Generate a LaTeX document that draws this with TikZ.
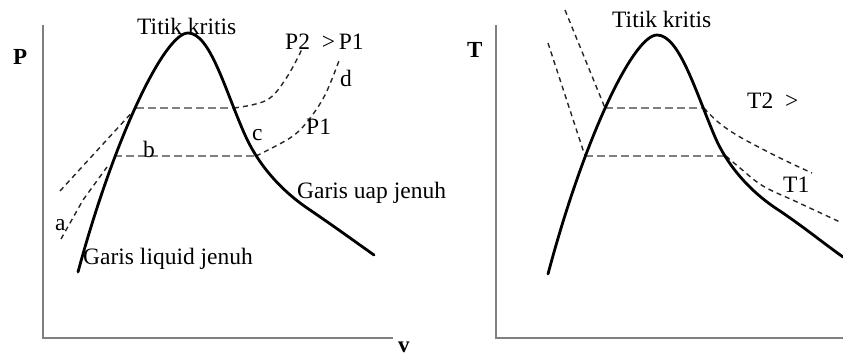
\documentclass[tikz,border=0pt]{standalone}
\usepackage{fontspec}
\setmainfont{Liberation Serif}
\begin{document}
\begin{tikzpicture}[x=1pt,y=-1pt,
  axis/.style={draw=black!50, line width=2pt},
  sat/.style={draw=black, line width=2.8pt, line cap=round, line join=round},
  iso/.style={draw=black!85, line width=1.4pt, dash pattern=on 5pt off 4pt},
  tie/.style={draw=black!50, line width=2pt, dash pattern=on 8pt off 4pt},
  lbl/.style={anchor=base west, inner sep=0pt, font=\fontsize{23.5}{27}\selectfont},
  axl/.style={anchor=base west, inner sep=0pt, font=\fontsize{23}{27}\selectfont\bfseries}]
\useasboundingbox (0,0) rectangle (843,353);
% ---------- left panel (P-v) ----------
\coordinate (LO) at (43,338);
\coordinate (LT) at (43,25);
\coordinate (LR) at (393,338);
\draw[axis] (LT) -- (LO) -- (LR);
\coordinate (la1) at (136,108);
\coordinate (ra1) at (234,108);
\coordinate (la2) at (114,156);
\coordinate (ra2) at (256,156);
% isobars
\draw[tie] (la1) -- (ra1);
\draw[tie] (la2) -- (ra2);
\draw[iso] (60,191) -- (la1);
\draw[iso] plot[smooth, tension=0.6] coordinates {(ra1) (267,100) (287,77) (303,47)};
\draw[iso] (61,239) -- (83,200) -- (107,167);
\draw[iso] plot[smooth, tension=0.6] coordinates {(ra2) (290,138) (307,122) (325,95) (340,58)};
\draw[sat] (78,272) .. controls (115,135) and (165,33) .. (188,33)
  .. controls (210,33) and (225,90) .. (245,135)
  .. controls (258,164) and (280,190) .. (310,210)
  .. controls (335,227) and (350,238) .. (374,255);
% labels
\node[axl] (Pl) at (13,65) {P};
\node[axl] (vl) at (398,352) {v};
\node[lbl] (tk1) at (137,35) {Titik kritis};
\node[lbl] (p2) at (285,50) {P2\ \ >\,P1};
\node[lbl] (dl) at (340,86) {d};
\node[lbl] (p1) at (306,134) {P1};
\node[lbl] (cl) at (252,140) {c};
\node[lbl] (bl) at (143,157) {b};
\node[lbl] (al) at (55,230) {a};
\node[lbl] (guj) at (297,198) {Garis uap jenuh};
\node[lbl] (glj) at (83,264) {Garis liquid jenuh};
% ---------- right panel (T-v) ----------
\coordinate (RO) at (496,338);
\coordinate (RT) at (496,25);
\coordinate (RR) at (843,338);
\draw[axis] (RT) -- (RO) -- (RR);
\coordinate (lb1) at (605,108);
\coordinate (rb1) at (704,108);
\coordinate (lb2) at (585,156);
\coordinate (rb2) at (726,156);
% isotherms
\draw[tie] (lb1) -- (rb1);
\draw[tie] (lb2) -- (rb2);
\draw[iso] (565,10) -- (lb1);
\draw[iso] plot[smooth, tension=0.6] coordinates {(rb1) (718,122) (740,137) (780,158) (812,173)};
\draw[iso] (548,43) -- (lb2);
\draw[iso] plot[smooth, tension=0.6] coordinates {(rb2) (740,168) (763,186) (797,202) (840,222)};
\draw[sat] (548,274) .. controls (585,135) and (634,35) .. (657,35)
  .. controls (679,35) and (695,90) .. (715,137)
  .. controls (727,165) and (750,192) .. (780,211)
  .. controls (805,228) and (822,242) .. (843,257);
\node[axl] (Tl) at (467,58) {T};
\node[lbl] (tk2) at (612,28) {Titik kritis};
\node[lbl] (t2) at (747,108) {T2\ \ >};
\node[lbl] (t1) at (783,192) {T1};
\end{tikzpicture}
\end{document}
